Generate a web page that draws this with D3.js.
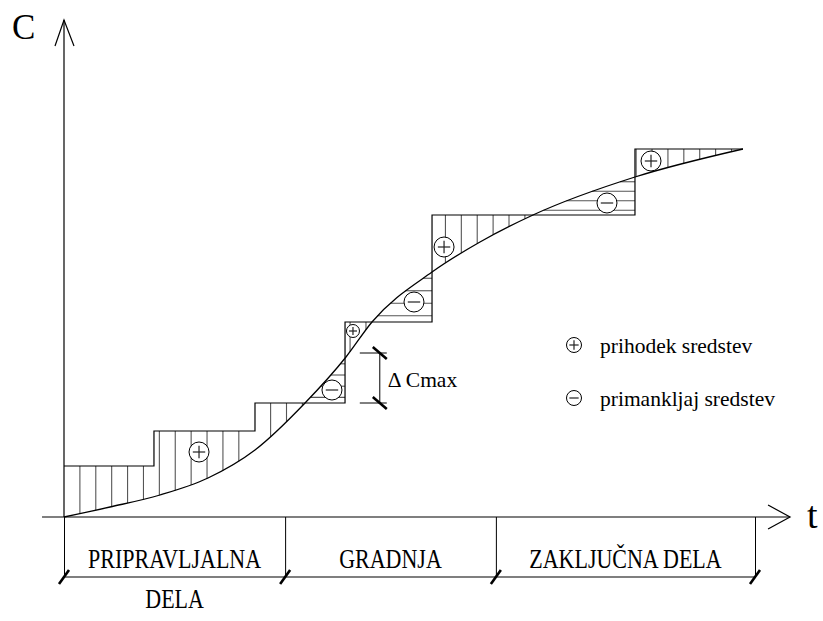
<!DOCTYPE html>
<html><head><meta charset="utf-8">
<script src="https://cdn.jsdelivr.net/npm/d3@7"></script>
<style>
body{margin:0;background:#fff}
</style>
</head><body>
<svg id="c" width="823" height="621"></svg>
<script>
// ---- data ----
const curveT = [0, 6.66, 13.89, 20.84, 27.64, 34.88, 40.81, 44.57, 53.26, 60.20, 67.87, 82.63, 98.26];
const curveC = [0, 2.5, 5.5, 9.75, 16.75, 28.5, 40.0, 48.75, 61.25, 68.75, 75.5, 85, 92];
const stepT = [0, 13.02, 27.64, 40.67, 53.26, 82.63, 98.26];
const stepC = [12.75, 21.5, 28.5, 48.75, 75.5, 92];
const phaseBounds = [0, 32, 62.5, 100];
const phaseLabels = [["PRIPRAVLJALNA", "DELA"], ["GRADNJA"], ["ZAKLJUČNA DELA"]];
const markerT = [19.54, 41.82, 38.78, 50.65, 55.0, 78.58, 84.95];
const markerC = [16.25, 46.5, 31.75, 53.75, 67.5, 78.5, 89];
const markerType = ["+", "+", "-", "-", "+", "-", "+"];
const markerSmall = [false, true, false, false, false, false, false];
const legendTypes = ["+", "-"];
const legendLabels = ["prihodek sredstev", "primankljaj sredstev"];
const deltaT = 45.7;
const deltaC = [28.5, 41];
const deltaLabel = "Δ Cmax";
const axisLabelY = "C", axisLabelX = "t";

const FONT = "Liberation Serif";

// ---- scales ----
const x = d3.scaleLinear().domain([0, 100]).range([64, 755]);
const y = d3.scaleLinear().domain([0, 100]).range([517, 117]);
const svg = d3.select("#c");
const g = svg.append("g");

// curve (path used also for sampling)
const line = d3.line().x(d => x(d[0])).y(d => y(d[1])).curve(d3.curveMonotoneX);
const pts = curveT.map((t, i) => [t, curveC[i]]);
const hatchG = g.append("g");
const curvePath = g.append("path").attr("d", line(pts)).attr("fill", "none")
  .attr("stroke", "#000").attr("stroke-width", 1.3);
const node = curvePath.node();
const L = node.getTotalLength();
const samples = [];
for (let l = 0; l <= L; l += 0.4) samples.push(node.getPointAtLength(l));
samples.push(node.getPointAtLength(L));
function yAtX(px) {
  for (let i = 0; i < samples.length - 1; i++) {
    const a = samples[i], b = samples[i + 1];
    if (px >= a.x && px <= b.x) { const f = b.x === a.x ? 0 : (px - a.x) / (b.x - a.x); return a.y + f * (b.y - a.y); }
  }
  return samples[samples.length - 1].y;
}
function xAtY(py) {
  for (let i = 0; i < samples.length - 1; i++) {
    const a = samples[i], b = samples[i + 1];
    if (py <= a.y && py >= b.y) { const f = a.y === b.y ? 0 : (a.y - py) / (a.y - b.y); return a.x + f * (b.x - a.x); }
  }
  return samples[samples.length - 1].x;
}

// vertical hatch (plus regions)
const hatchStep = 2.3;
for (let k = 1; k * hatchStep < stepT[stepT.length - 1]; k++) {
  const t = k * hatchStep;
  const i = stepT.findIndex((s, j) => j < stepT.length - 1 && t > s + 0.15 && t < stepT[j + 1] - 0.15);
  if (i < 0) continue;
  const px = x(t), ys = y(stepC[i]), yc = yAtX(px);
  if (yc > ys + 0.5) hatchG.append("line").attr("x1", px).attr("x2", px).attr("y1", ys).attr("y2", yc)
    .attr("stroke", "#555").attr("stroke-width", 1.1);
}
// horizontal hatch (minus regions)
for (let i = 0; i < stepC.length; i++) {
  const xr = x(stepT[i + 1]);
  const top = yAtX(xr), bottom = y(stepC[i]);
  if (bottom - top < 3) continue;
  const h = bottom - top;
  for (let j = 0; j < 4; j++) {
    const py = bottom - h * (j + 0.5) / 4;
    hatchG.append("line").attr("x1", xAtY(py)).attr("x2", xr).attr("y1", py).attr("y2", py)
      .attr("stroke", "#555").attr("stroke-width", 1.1);
  }
}

// step line
const stepPts = [];
stepC.forEach((c, i) => { stepPts.push([stepT[i], c]); stepPts.push([stepT[i + 1], c]); });
g.append("path").attr("d", d3.line().x(d => x(d[0])).y(d => y(d[1]))(stepPts))
  .attr("fill", "none").attr("stroke", "#000").attr("stroke-width", 1.2);
curvePath.raise();

// axes
const ax = g.append("g").attr("stroke", "#000").attr("stroke-width", 1.2).attr("fill", "none");
const xEnd = x(105.07), xStart = x(-3.18);
ax.append("line").attr("x1", xStart).attr("x2", xEnd).attr("y1", y(0)).attr("y2", y(0));
ax.append("polyline").attr("points", `${xEnd - 22},${y(0) - 12} ${xEnd},${y(0)} ${xEnd - 22},${y(0) + 12}`);
const yTop = y(124.25);
ax.append("line").attr("x1", x(0)).attr("x2", x(0)).attr("y1", yTop).attr("y2", y(0));
ax.append("polyline").attr("points", `${x(0) - 9},${yTop + 26} ${x(0)},${yTop} ${x(0) + 10},${yTop + 26}`);

// phase dividers using axis ticks
const phaseAxis = d3.axisBottom(x).tickValues(phaseBounds).tickSize(60).tickFormat("");
const pa = g.append("g").attr("transform", `translate(0,${y(0)})`).call(phaseAxis);
pa.select(".domain").remove();
pa.selectAll(".tick line").attr("stroke", "#000").attr("stroke-width", 1);
const barY = y(0) + 60;
g.append("line").attr("x1", x(phaseBounds[0])).attr("x2", x(phaseBounds[phaseBounds.length - 1]))
  .attr("y1", barY).attr("y2", barY).attr("stroke", "#000").attr("stroke-width", 1.2);
phaseBounds.forEach(b => {
  g.append("line").attr("x1", x(b) - 5).attr("x2", x(b) + 5).attr("y1", barY + 7).attr("y2", barY - 7)
    .attr("stroke", "#000").attr("stroke-width", 2.6);
});
phaseLabels.forEach((lbls, i) => {
  const cx = (x(phaseBounds[i]) + x(phaseBounds[i + 1])) / 2;
  lbls.forEach((s, j) => {
    g.append("text").attr("transform", `translate(${cx},${551 + j * 40}) scale(1,1.2)`)
      .style("font-family", FONT)
      .attr("text-anchor", "middle").attr("font-size", 22).attr("y", 14).text(s);
  });
});

// axis labels
g.append("text").attr("x", 12).attr("y", 39).style("font-family", FONT).attr("font-size", 35).text(axisLabelY);
g.append("text").attr("x", 807).attr("y", 528).style("font-family", FONT).attr("font-size", 38).text(axisLabelX);

// markers
function marker(cx, cy, r, type) {
  const m = g.append("g");
  m.append("circle").attr("cx", cx).attr("cy", cy).attr("r", r).attr("fill", "#fff")
    .attr("stroke", "#000").attr("stroke-width", 1);
  const a = r * 0.62;
  m.append("line").attr("x1", cx - a).attr("x2", cx + a).attr("y1", cy).attr("y2", cy)
    .attr("stroke", "#222").attr("stroke-width", 1.2);
  if (type === "+") m.append("line").attr("x1", cx).attr("x2", cx).attr("y1", cy - a).attr("y2", cy + a)
    .attr("stroke", "#222").attr("stroke-width", 1.2);
}
markerT.forEach((t, i) => marker(x(t), y(markerC[i]), markerSmall[i] ? 6.5 : 10, markerType[i]));

// legend
legendTypes.forEach((tp, i) => {
  const cy = 345 + i * 53;
  marker(574, cy, 7.5, tp);
  g.append("text").attr("x", 600).attr("y", cy + 8).style("font-family", FONT).attr("font-size", 21.5).text(legendLabels[i]);
});

// delta Cmax bracket
const dx = x(deltaT), dy0 = y(deltaC[1]), dy1 = y(deltaC[0]);
const dg = g.append("g").attr("stroke", "#000");
[dy0, dy1].forEach(yy => {
  dg.append("line").attr("x1", dx - 20).attr("x2", dx + 7).attr("y1", yy).attr("y2", yy).attr("stroke-width", 1);
  dg.append("line").attr("x1", dx - 7).attr("x2", dx + 7).attr("y1", yy - 6).attr("y2", yy + 6).attr("stroke-width", 2.6);
});
dg.append("line").attr("x1", dx).attr("x2", dx).attr("y1", dy0).attr("y2", dy1).attr("stroke-width", 1);
g.append("text").attr("x", dx + 8).attr("y", 387).style("font-family", FONT).attr("font-size", 21.5).text(deltaLabel);
</script>
</body></html>
